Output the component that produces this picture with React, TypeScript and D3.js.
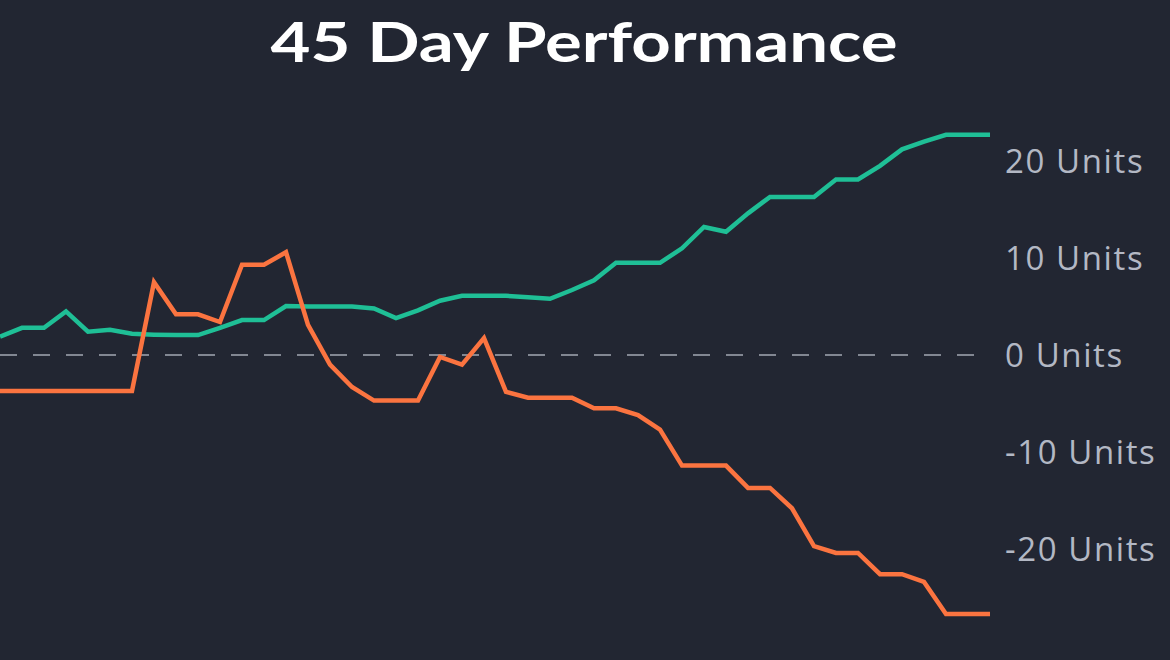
import React from "react";
import * as d3 from "d3";

const days: number[] = Array.from({ length: 46 }, (_, i) => i);

const tealValues: number[] = [
  1.9, 2.8, 2.8, 4.5, 2.4, 2.6, 2.2, 2.1, 2.05, 2.05,
  2.8, 3.6, 3.6, 5.05, 5.0, 5.0, 5.0, 4.8, 3.8, 4.6,
  5.6, 6.1, 6.1, 6.1, 5.95, 5.8, 6.7, 7.7, 9.5, 9.5,
  9.5, 11.0, 13.2, 12.7, 14.6, 16.3, 16.3, 16.3, 18.1, 18.1,
  19.5, 21.2, 22.0, 22.7, 22.7, 22.7,
];

const orangeValues: number[] = [
  -3.7, -3.7, -3.7, -3.7, -3.7, -3.7, -3.7, 7.5, 4.2, 4.2,
  3.4, 9.3, 9.3, 10.6, 3.1, -1.0, -3.3, -4.7, -4.7, -4.7,
  -0.2, -1.0, 1.75, -3.8, -4.4, -4.4, -4.4, -5.5, -5.5, -6.2,
  -7.7, -11.4, -11.4, -11.4, -13.7, -13.7, -15.8, -19.7, -20.4, -20.4,
  -22.6, -22.6, -23.4, -26.7, -26.7, -26.7,
];

const yTicks: number[] = [20, 10, 0, -10, -20];
const tickLabel = (v: number) => `${v} Units`;
const title = "45 Day Performance";

const W = 1170;
const H = 660;

export default function App() {
  const x = d3.scaleLinear().domain([0, 45]).range([0, 990]);
  const y = d3.scaleLinear().domain([-20, 20]).range([549, 161]);

  const line = d3
    .line<number>()
    .x((_, i) => x(days[i]))
    .y((d) => y(d));

  return (
    <div style={{ position: "fixed", left: 0, top: 0, width: W, height: H }}>
      <svg width={W} height={H} style={{ display: "block" }}>
        <rect x={0} y={0} width={W} height={H} fill="#222632" />
        <text
          x={584}
          y={62}
          textAnchor="middle"
          fill="#ffffff"
          fontFamily="Lato, 'Open Sans', sans-serif"
          fontWeight={700}
          fontSize={56}
          textLength={627}
          lengthAdjust="spacingAndGlyphs"
        >
          {title}
        </text>
        <line
          x1={0}
          x2={990}
          y1={y(0)}
          y2={y(0)}
          stroke="#a3a8b3"
          strokeWidth={1.5}
          strokeDasharray="17 16"
        />
        <path
          d={line(tealValues) || ""}
          fill="none"
          stroke="#1fbf96"
          strokeWidth={4.5}
          strokeLinejoin="miter"
        />
        <path
          d={line(orangeValues) || ""}
          fill="none"
          stroke="#fb7440"
          strokeWidth={4.5}
          strokeLinejoin="miter"
        />
        {yTicks.map((t) => (
          <text
            key={t}
            x={1005}
            y={y(t)}
            dy="0.36em"
            fill="#b3b8c4"
            fontFamily="'Open Sans', Lato, sans-serif"
            fontSize={33}
            letterSpacing={1.6}
          >
            {tickLabel(t)}
          </text>
        ))}
      </svg>
    </div>
  );
}
